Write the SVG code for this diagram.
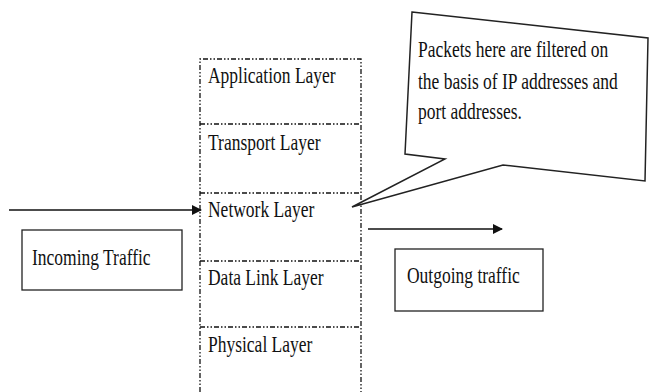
<svg xmlns="http://www.w3.org/2000/svg" width="650" height="392" viewBox="0 0 650 392">
  <style>
    .t { font-family: "Liberation Serif", "Times New Roman", serif; font-size: 17.5px; fill: #111; }
    .box { fill: #fff; stroke: #222; stroke-width: 1.3; }
    .layer { fill: none; stroke: #111; stroke-width: 1.3; stroke-dasharray: 5 2 1.5 2 1.5 2; }
    .wire { fill: none; stroke: #111; stroke-width: 1.4; }
    .callout { fill: #fff; stroke: #222; stroke-width: 1.5; stroke-linejoin: miter; }
  </style>
  <defs>
    <marker id="arrow" viewBox="0 0 10 10" refX="9" refY="5" markerWidth="10" markerHeight="10" markerUnits="userSpaceOnUse" orient="auto">
      <path d="M0,0 L10,5 L0,10 z" fill="#111"/>
    </marker>
  </defs>

  <!-- protocol stack -->
  <g id="stack">
    <path class="layer" d="M200,392 V59 H361 V392"/>
    <path class="layer" d="M200,124 H361 M200,193 H361 M200,261 H361 M200,327 H361"/>
  </g>
  <g id="application-layer">
    <text class="t" transform="matrix(1,0,0,1.35,208,83)">Application Layer</text>
  </g>
  <g id="transport-layer">
    <text class="t" transform="matrix(1,0,0,1.35,208,150)">Transport Layer</text>
  </g>
  <g id="network-layer">
    <text class="t" transform="matrix(1,0,0,1.35,208,217)">Network Layer</text>
  </g>
  <g id="data-link-layer">
    <text class="t" transform="matrix(1,0,0,1.35,208,285)">Data Link Layer</text>
  </g>
  <g id="physical-layer">
    <text class="t" transform="matrix(1,0,0,1.35,208,352)">Physical Layer</text>
  </g>

  <!-- traffic labels -->
  <g id="incoming-traffic">
    <rect class="box" x="22" y="230" width="160" height="60"/>
    <text class="t" transform="matrix(1,0,0,1.35,32,265)">Incoming Traffic</text>
  </g>
  <g id="outgoing-traffic">
    <rect class="box" x="395" y="249" width="148" height="62"/>
    <text class="t" transform="matrix(1,0,0,1.35,407,283)">Outgoing traffic</text>
  </g>

  <!-- filtering note -->
  <g id="filter-note">
    <path class="callout" d="M412,12 L648,38 L645,181 L503,165 L352,207 L445,159 L405,154 Z"/>
    <text class="t" transform="matrix(1,0,0,1.35,418,57)">Packets here are filtered on</text>
    <text class="t" transform="matrix(1,0,0,1.35,418,89)">the basis of IP addresses and</text>
    <text class="t" transform="matrix(1,0,0,1.35,418,119)">port addresses.</text>
  </g>

  <!-- traffic flow -->
  <g id="connectors">
    <line class="wire" x1="9" y1="210" x2="201" y2="210" marker-end="url(#arrow)"/>
    <line class="wire" x1="368" y1="229" x2="502" y2="229" marker-end="url(#arrow)"/>
  </g>
</svg>
